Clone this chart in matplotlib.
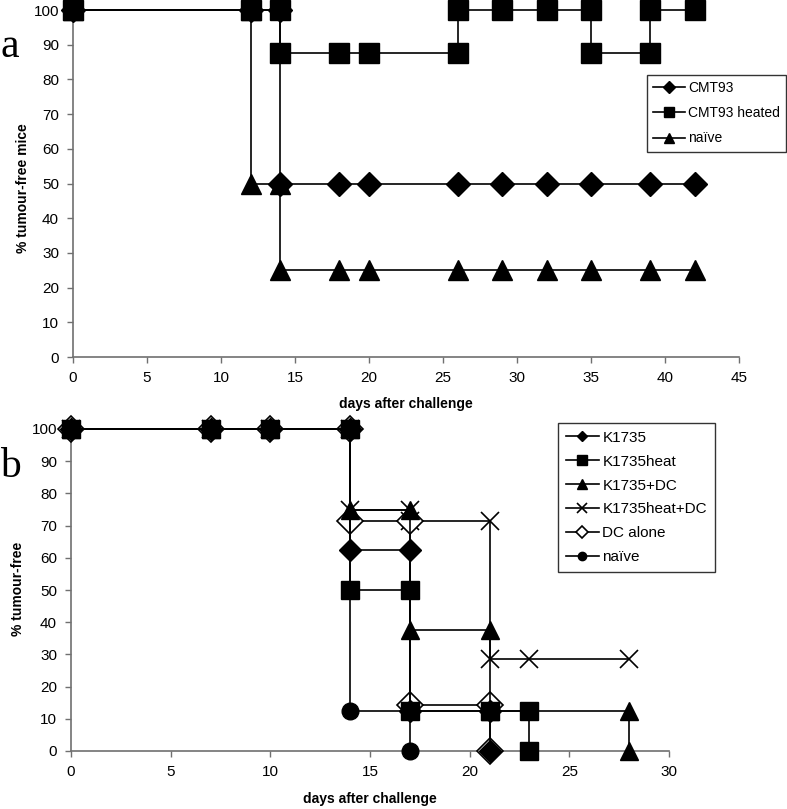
import matplotlib
matplotlib.use("Agg")
import matplotlib.pyplot as plt

plt.rcParams['font.family'] = ['Liberation Sans', 'DejaVu Sans']

# ---- Panel a data ----
a_cmt93_x = [0, 12, 14, 14, 18, 20, 26, 29, 32, 35, 39, 42]
a_cmt93_y = [100, 100, 100, 50, 50, 50, 50, 50, 50, 50, 50, 50]
a_heat_x = [0, 12, 14, 14, 18, 20, 26, 26, 29, 32, 35, 35, 39, 39, 42]
a_heat_y = [100, 100, 100, 87.5, 87.5, 87.5, 87.5, 100, 100, 100, 100, 87.5, 87.5, 100, 100]
a_naive_x = [0, 12, 12, 14, 14, 18, 20, 26, 29, 32, 35, 39, 42]
a_naive_y = [100, 100, 50, 50, 25, 25, 25, 25, 25, 25, 25, 25, 25]
a_labels = ["CMT93", "CMT93 heated", "na\u00efve"]

# ---- Panel b data ----
b_k_x = [0, 7, 10, 14, 14, 17, 17, 21, 21]
b_k_y = [100, 100, 100, 100, 62.5, 62.5, 12.5, 12.5, 0]
b_kh_x = [0, 7, 10, 14, 14, 17, 17, 21, 23, 23]
b_kh_y = [100, 100, 100, 100, 50, 50, 12.5, 12.5, 12.5, 0]
b_kdc_x = [0, 7, 10, 14, 14, 17, 17, 21, 21, 28, 28]
b_kdc_y = [100, 100, 100, 100, 75, 75, 37.5, 37.5, 12.5, 12.5, 0]
b_khdc_x = [0, 7, 10, 14, 14, 17, 17, 21, 21, 23, 28]
b_khdc_y = [100, 100, 100, 100, 75, 75, 71.4, 71.4, 28.6, 28.6, 28.6]
b_dc_x = [0, 7, 10, 14, 14, 17, 17, 21, 21]
b_dc_y = [100, 100, 100, 100, 71.4, 71.4, 14.3, 14.3, 0]
b_nv_x = [0, 7, 10, 14, 14, 17, 17]
b_nv_y = [100, 100, 100, 100, 12.5, 12.5, 0]
b_labels = ["K1735", "K1735heat", "K1735+DC", "K1735heat+DC", "DC alone", "na\u00efve"]

W, H = 787, 809
fig = plt.figure(figsize=(W / 100, H / 100), dpi=100)

spine_col = '#707070'
tick_fs = 11


def style(ax):
    for s in ['top', 'right']:
        ax.spines[s].set_visible(False)
    for s in ['left', 'bottom']:
        ax.spines[s].set_color(spine_col)
        ax.spines[s].set_linewidth(1.2)
    ax.tick_params(direction='out', length=4, width=1.0, color=spine_col,
                   labelsize=tick_fs, pad=6)


# Panel a
ax1 = fig.add_axes([73 / W, 1 - 357 / H, (739 - 73) / W, (357 - 10) / H])
ax1.plot(a_cmt93_x, a_cmt93_y, color='black', lw=1.2, marker='D', ms=12,
         mfc='black', mec='black', clip_on=False, label=a_labels[0], zorder=3)
ax1.plot(a_heat_x, a_heat_y, color='black', lw=1.2, marker='s', ms=14,
         mfc='black', mec='black', clip_on=False, label=a_labels[1], zorder=4)
ax1.plot(a_naive_x, a_naive_y, color='black', lw=1.2, marker='^', ms=14,
         mfc='black', mec='black', clip_on=False, label=a_labels[2], zorder=3)
ax1.set_xlim(0, 45)
ax1.set_ylim(0, 100)
ax1.set_xticks(range(0, 46, 5))
ax1.set_yticks(range(0, 101, 10))
style(ax1)
ax1.set_xlabel('days after challenge', fontsize=10, fontweight='bold', va='center')
ax1.xaxis.set_label_coords(406 / W, 1 - 404 / H, transform=fig.transFigure)
ax1.set_ylabel('% tumour-free mice', fontsize=10, fontweight='bold', va='center')
ax1.yaxis.set_label_coords(23 / W, 1 - 188 / H, transform=fig.transFigure)
leg1 = ax1.legend(loc='upper right', bbox_to_anchor=(786 / W, 1 - 75 / H),
                  bbox_transform=fig.transFigure, frameon=True, fancybox=False,
                  edgecolor='black', fontsize=10, markerscale=0.5,
                  handlelength=2.3, handletextpad=0.2, borderpad=0.45,
                  labelspacing=0.8, borderaxespad=0)
leg1.get_frame().set_linewidth(1.0)

# Panel b
ax2 = fig.add_axes([71 / W, 1 - 751 / H, (669 - 71) / W, (751 - 429) / H])
ax2.plot(b_k_x, b_k_y, color='black', lw=1.2, marker='D', ms=11,
         mfc='black', mec='black', clip_on=False, label=b_labels[0], zorder=5)
ax2.plot(b_kh_x, b_kh_y, color='black', lw=1.2, marker='s', ms=13,
         mfc='black', mec='black', clip_on=False, label=b_labels[1], zorder=4)
ax2.plot(b_kdc_x, b_kdc_y, color='black', lw=1.2, marker='^', ms=13,
         mfc='black', mec='black', clip_on=False, label=b_labels[2], zorder=4)
ax2.plot(b_khdc_x, b_khdc_y, color='black', lw=1.2, marker='x', ms=13,
         mew=1.2, mec='black', clip_on=False, label=b_labels[3], zorder=3)
ax2.plot(b_dc_x, b_dc_y, color='black', lw=1.2, marker='D', ms=13,
         mfc='white', mec='black', mew=1.2, clip_on=False, label=b_labels[4], zorder=3)
ax2.plot(b_nv_x, b_nv_y, color='black', lw=1.2, marker='o', ms=12,
         mfc='black', mec='black', clip_on=False, label=b_labels[5], zorder=4)
ax2.set_xlim(0, 30)
ax2.set_ylim(0, 100)
ax2.set_xticks(range(0, 31, 5))
ax2.set_yticks(range(0, 101, 10))
style(ax2)
ax2.set_xlabel('days after challenge', fontsize=10, fontweight='bold', va='center')
ax2.xaxis.set_label_coords(370 / W, 1 - 799 / H, transform=fig.transFigure)
ax2.set_ylabel('% tumour-free', fontsize=10, fontweight='bold', va='center')
ax2.yaxis.set_label_coords(18 / W, 1 - 589 / H, transform=fig.transFigure)
leg2 = ax2.legend(loc='upper left', bbox_to_anchor=(558 / W, 1 - 423 / H),
                  bbox_transform=fig.transFigure, frameon=True, fancybox=False,
                  edgecolor='black', fontsize=11, markerscale=0.5,
                  handlelength=2.2, handletextpad=0.2, borderpad=0.5,
                  labelspacing=0.65, borderaxespad=0)
leg2.get_frame().set_linewidth(1.0)

# Panel letters
fig.text(0 / W, 1 - 47 / H, 'a', fontsize=30, family=['Liberation Serif'], va='center', ha='left')
fig.text(0 / W, 1 - 467 / H, 'b', fontsize=30, family=['Liberation Serif'], va='center', ha='left')

fig.savefig('out.png', dpi=100)
